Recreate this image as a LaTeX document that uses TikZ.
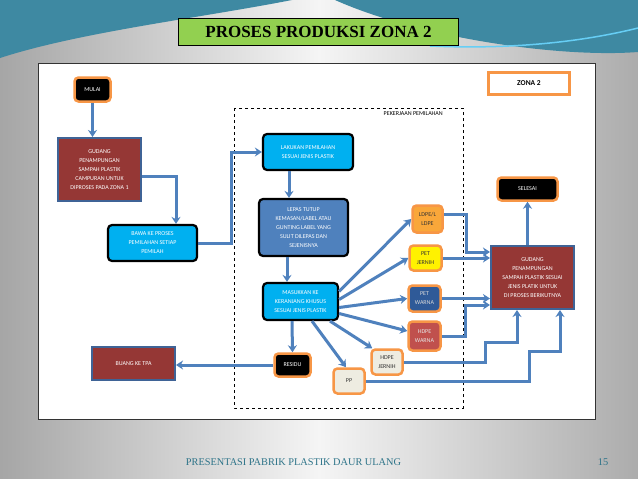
\documentclass[tikz,border=0pt]{standalone}
\usepackage{fontspec}
\setmainfont{Liberation Serif}
\newfontfamily\calfamily{Carlito}
\usetikzlibrary{arrows.meta,positioning,calc}
\definecolor{flowblue}{HTML}{4F81BD}
\definecolor{storered}{HTML}{953735}
\definecolor{storeline}{HTML}{3F6396}
\definecolor{taskcyan}{HTML}{00B0F0}
\definecolor{taskblue}{HTML}{4F81BD}
\definecolor{boxorange}{HTML}{F79646}
\definecolor{ldpeorange}{HTML}{F9A73A}
\definecolor{petblue}{HTML}{2F5A98}
\definecolor{hdpered}{HTML}{C0504D}
\definecolor{binbeige}{HTML}{EEECE1}
\definecolor{titlegreen}{HTML}{92D050}
\definecolor{slideteal}{HTML}{3E89A2}
\definecolor{footteal}{HTML}{2E7489}
\newcommand{\flowfont}{\calfamily\fontsize{6}{9}\selectfont}
\tikzset{
  flow/.style     = {-{Stealth[length=7pt,width=9pt]}, line width=3pt, draw=flowblue},
  box/.style      = {align=center, font=\flowfont, inner sep=1pt},
  termbox/.style  = {box, rounded corners=4pt, fill=black, draw=boxorange, line width=2.5pt, text=white},
  storebox/.style = {box, fill=storered, draw=storeline, line width=2pt, text=white},
  taskbox/.style  = {box, rounded corners=4pt, fill=taskcyan, draw=black, line width=2.2pt, text=white},
  binbox/.style   = {box, rounded corners=4pt, draw=boxorange, line width=2.5pt, text=black!80},
}
\begin{document}
\begin{tikzpicture}[x=1pt, y=-1pt]
  \useasboundingbox (0,0) rectangle (638,479);
  % slide background
  \shade[left color=gray!70, right color=gray!65, middle color=gray!8] (0,0) rectangle (638,479);
  \fill[slideteal] (0,0) -- (292,0) .. controls (200,18) and (80,32) .. (0,58) -- cycle;
  \fill[slideteal] (335,0) -- (638,0) -- (638,52) .. controls (560,58) and (420,38) .. (335,0) -- cycle;
  \draw[cyan!60, line width=1.5pt] (430,46) .. controls (520,50) and (590,40) .. (638,28);
  \node[draw=black, line width=1pt, fill=titlegreen, minimum width=280pt, minimum height=27pt,
        font=\bfseries\fontsize{17}{17}\selectfont] (title) at (318.5,32) {PROSES PRODUKSI ZONA 2};
  % white panel
  \fill[white, draw=black!80, line width=0.8pt] (38,63) rectangle (595,419);
  \draw[dashed, line width=0.8pt] (234,108) rectangle (463,408);
  \node[box, anchor=east, text=black] (pemilahan) at (444,114) {PEKERJAAN PEMILAHAN};
  \node[box, draw=boxorange, line width=2.5pt, fill=white, minimum width=81pt, minimum height=22pt,
        font=\calfamily\bfseries\fontsize{7.5}{7.5}\selectfont] (zona) at (529,83.5) {ZONA 2};

  % flow nodes
  \node[termbox, minimum width=36pt, minimum height=24pt] (mulai) at (92.5,89.5) {MULAI};
  \node[storebox, minimum width=83pt, minimum height=63pt] (gud1) at (99.5,169.5)
    {GUDANG\\PENAMPUNGAN\\SAMPAH PLASTIK\\CAMPURAN UNTUK\\DIPROSES PADA ZONA 1};
  \node[taskbox, minimum width=89pt, minimum height=36pt] (bawa) at (152.5,243)
    {BAWA KE PROSES\\PEMILAHAN SETIAP\\PEMILAH};
  \node[taskbox, minimum width=90pt, minimum height=36pt] (lakukan) at (308,152)
    {LAKUKAN PEMILAHAN\\SESUAI JENIS PLASTIK};
  \node[taskbox, fill=taskblue, minimum width=89pt, minimum height=57pt] (lepas) at (303.5,227.5)
    {LEPAS TUTUP\\KEMASAN/LABEL ATAU\\GUNTING LABEL YANG\\SULIT DILEPAS DAN\\SEJENISNYA};
  \node[taskbox, minimum width=75pt, minimum height=37pt] (masuk) at (300.5,301.5)
    {MASUKKAN KE\\KERANJANG KHUSUS\\SESUAI JENIS PLASTIK};
  \node[termbox, minimum width=36pt, minimum height=23pt] (residu) at (292.5,365) {RESIDU};
  \node[storebox, minimum width=83pt, minimum height=33pt] (buang) at (133.5,363.5) {BUANG KE TPA};

  % plastic bins
  \node[binbox, fill=binbeige, minimum width=31pt, minimum height=25pt] (pp) at (349,381) {PP};
  \node[binbox, fill=binbeige, minimum width=31pt, minimum height=25pt] (hdpej) at (387,362) {HDPE\\JERNIH};
  \node[binbox, fill=ldpeorange, minimum width=30pt, minimum height=27pt] (ldpe) at (427.5,219) {LDPE/L\\LDPE};
  \node[binbox, fill=yellow, minimum width=32pt, minimum height=25pt] (petj) at (425.5,258) {PET\\JERNIH};
  \node[binbox, fill=petblue, text=white!85!black, minimum width=32pt, minimum height=26pt] (petw) at (424.5,298.5) {PET\\WARNA};
  \node[binbox, fill=hdpered, text=white!90!black, minimum width=32pt, minimum height=29pt] (hdpew) at (424.5,336) {HDPE\\WARNA};

  \node[storebox, minimum width=83pt, minimum height=63pt] (gud2) at (532.5,277.5)
    {GUDANG\\PENAMPUNGAN\\SAMPAH PLASTIK SESUAI\\JENIS PLATIK UNTUK\\DI PROSES BERIKUTNYA};
  \node[termbox, minimum width=60pt, minimum height=23pt] (selesai) at (527.5,189) {SELESAI};

  % connectors
  \draw[flow] (mulai.south) -- (mulai.south |- gud1.north);
  \draw[flow] ([yshift=-6.5pt]gud1.east) -| ([xshift=23.5pt]bawa.north);
  \draw[flow] (bawa.east) -- ++(33,0) |- (lakukan.west);
  \draw[flow] ([xshift=-19pt]lakukan.south) -- ([xshift=-14.5pt]lepas.north);
  \draw[flow] ([xshift=-16.5pt]lepas.south) -- ([xshift=-13.5pt]masuk.north);
  \draw[flow] ([xshift=-8.5pt]masuk.south) -- (residu.north);
  \draw[flow] (residu.west) -- (residu.west -| buang.east);
  \draw[flow] ([xshift=11.5pt]masuk.south) -- ([xshift=-3pt]pp.north);
  \draw[flow] ([xshift=29.5pt]masuk.south) -- ([xshift=2pt]hdpej.north west);
  \draw[flow] ([yshift=-12pt]masuk.east) -- ([yshift=5pt]hdpew.west);
  \draw[flow] ([yshift=-6pt]masuk.east) -- (petw.west);
  \draw[flow] ([yshift=2pt]masuk.east) -- (petj.west);
  \draw[flow] ([yshift=10pt]masuk.east) -- (ldpe.west);
  \draw[flow] ([yshift=5pt]ldpe.east) -- ++(23,0) |- ([yshift=25.5pt]gud2.west);
  \draw[flow] (petj.east) -- (petj.east -| gud2.west);
  \draw[flow] (petw.east) -- (petw.east -| gud2.west);
  \draw[flow] (hdpew.east) -- ++(24,0) |- ([yshift=-27.5pt]gud2.west);
  \draw[flow] (hdpej.east) -- ++(82,0) -- ++(0,-20) -| ([xshift=-15.5pt]gud2.south);
  \draw[flow] (pp.east) -- ++(164,0) -- ++(0,-30) -| ([xshift=27.5pt]gud2.south);
  \draw[flow] (selesai.south |- gud2.north) -- (selesai.south);

  % footer
  \node[text=footteal, font=\fontsize{10.3}{10.3}\selectfont] (footer) at (293.5,462) {PRESENTASI PABRIK PLASTIK DAUR ULANG};
  \node[text=footteal, font=\fontsize{10.3}{10.3}\selectfont] (page) at (603,462) {15};
\end{tikzpicture}
\end{document}
